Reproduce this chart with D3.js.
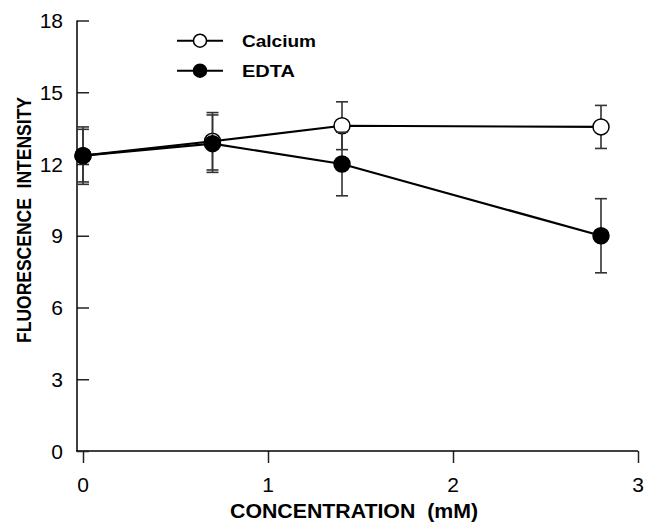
<!DOCTYPE html>
<html>
<head>
<meta charset="utf-8">
<script src="https://cdn.jsdelivr.net/npm/d3@7"></script>
<style>
  html, body { margin: 0; padding: 0; background: #fff; }
  svg { display: block; }
  text { font-family: "Liberation Sans", Arial, sans-serif; fill: #000; }
</style>
</head>
<body>
<script>
// Fluorescence intensity versus added calcium or EDTA concentration
const concentrations = [0, 0.7, 1.4, 2.8];
const calciumMean = [12.35, 12.95, 13.6, 13.55];
const calciumErr  = [1.1, 1.2, 1.0, 0.9];
const edtaMean    = [12.35, 12.85, 12.0, 9.0];
const edtaErr     = [1.2, 1.2, 1.33, 1.55];
const xTicks = [0, 1, 2, 3];
const yTicks = [0, 3, 6, 9, 12, 15, 18];
const seriesNames = ["Calcium", "EDTA"];

const W = 652, H = 527;
const svg = d3.select("body").append("svg").attr("width", W).attr("height", H);

const x = d3.scaleLinear().domain([0, 3]).range([83, 638]);
const y = d3.scaleLinear().domain([0, 18]).range([451, 20.5]);
const yAxisX = 77;

// axes: tick marks from d3 axes, labels set separately below
const xAxis = svg.append("g").attr("transform", `translate(0,${y(0)})`)
  .call(d3.axisBottom(x).tickValues(xTicks).tickFormat("").tickSizeInner(12).tickSizeOuter(0));
xAxis.select(".domain").remove();
xAxis.append("line").attr("x1", yAxisX - 1).attr("x2", x(3)).attr("y1", 0).attr("y2", 0)
  .attr("stroke", "#000").attr("stroke-width", 1.5);

const yAxis = svg.append("g").attr("transform", `translate(${yAxisX},0)`)
  .call(d3.axisLeft(y).tickValues(yTicks).tickFormat("").tickSizeInner(-12).tickSizeOuter(0));
yAxis.select(".domain").remove();
yAxis.append("line").attr("x1", 0).attr("x2", 0).attr("y1", y(0)).attr("y2", y(18))
  .attr("stroke", "#000").attr("stroke-width", 1.5);
svg.selectAll(".tick line").attr("stroke", "#222").attr("stroke-width", 1.5);

const tickLabels = svg.append("g").style("font-size", "21px");
tickLabels.selectAll(".xl").data(xTicks).join("text").attr("class", "xl")
  .attr("x", d => x(d)).attr("y", 492).attr("text-anchor", "middle").text(d => d);
tickLabels.selectAll(".yl").data(yTicks).join("text").attr("class", "yl")
  .attr("x", yAxisX - 14).attr("y", d => y(d) + 7.5).attr("text-anchor", "end").text(d => d);

// axis titles
svg.append("text").attr("x", 354).attr("y", 518).attr("text-anchor", "middle")
  .style("font-size", "20px").attr("font-weight", "bold").attr("xml:space", "preserve")
  .attr("textLength", 248).attr("lengthAdjust", "spacingAndGlyphs")
  .text("CONCENTRATION  (mM)");
svg.append("text").attr("transform", `translate(31,220) rotate(-90)`).attr("text-anchor", "middle")
  .style("font-size", "21px").attr("font-weight", "bold").attr("xml:space", "preserve")
  .attr("textLength", 246).attr("lengthAdjust", "spacingAndGlyphs")
  .text("FLUORESCENCE  INTENSITY");

const series = [
  { name: seriesNames[0], mean: calciumMean, err: calciumErr, fill: "#fff", w: 74 },
  { name: seriesNames[1], mean: edtaMean, err: edtaErr, fill: "#000", w: 53 }
];

const line = d3.line().x((d, i) => x(concentrations[i])).y(d => y(d));
const capHalf = 6, r = 8;

series.forEach(s => {
  const g = svg.append("g");
  // error bars
  concentrations.forEach((c, i) => {
    const hi = y(s.mean[i] + s.err[i]), lo = y(s.mean[i] - s.err[i]), cx = x(c);
    g.append("line").attr("x1", cx).attr("x2", cx).attr("y1", hi).attr("y2", lo)
      .attr("stroke", "#333").attr("stroke-width", 1.6);
    [hi, lo].forEach(v => g.append("line").attr("x1", cx - capHalf).attr("x2", cx + capHalf)
      .attr("y1", v).attr("y2", v).attr("stroke", "#333").attr("stroke-width", 1.6));
  });
  g.append("path").datum(s.mean).attr("d", line).attr("fill", "none")
    .attr("stroke", "#000").attr("stroke-width", 2.2);
  g.selectAll("circle").data(s.mean).join("circle")
    .attr("cx", (d, i) => x(concentrations[i])).attr("cy", d => y(d)).attr("r", r)
    .attr("fill", s.fill).attr("stroke", "#000").attr("stroke-width", 1.5);
});

// legend
const legend = svg.append("g");
series.forEach((s, i) => {
  const ly = 40.7 + i * 30;
  legend.append("line").attr("x1", 177).attr("x2", 223).attr("y1", ly).attr("y2", ly)
    .attr("stroke", "#000").attr("stroke-width", 2);
  legend.append("circle").attr("cx", 200).attr("cy", ly).attr("r", 6.5)
    .attr("fill", s.fill).attr("stroke", "#000").attr("stroke-width", 1.5);
  legend.append("text").attr("x", 242).attr("y", ly + 6).style("font-size", "17px")
    .attr("font-weight", "bold").attr("textLength", s.w).attr("lengthAdjust", "spacingAndGlyphs")
    .text(s.name);
});
</script>
</body>
</html>
